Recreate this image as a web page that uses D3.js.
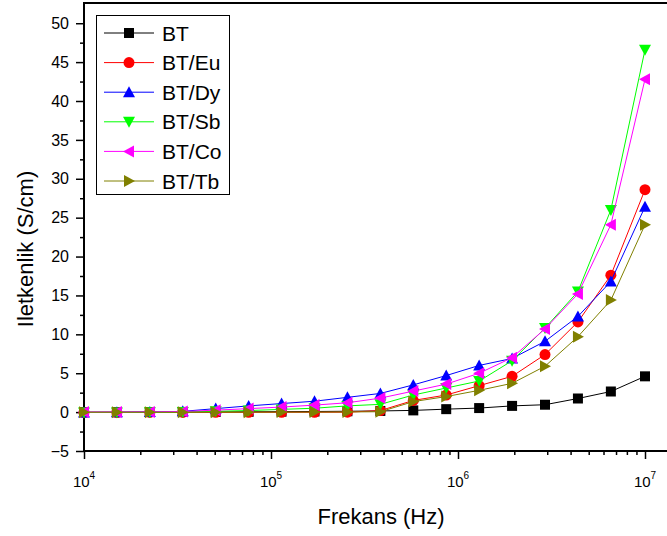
<!DOCTYPE html>
<html>
<head>
<meta charset="utf-8">
<script src="https://cdn.jsdelivr.net/npm/d3@7"></script>
<style>
  body { margin: 0; background: #fff; }
  svg { display: block; font-family: "Liberation Sans", Arial, sans-serif; }
</style>
</head>
<body>
<div id="chart-area"></div>
<script>
// frequencies (Hz), log-spaced sweep
const freq = [10000, 15000, 22500, 33750, 50625, 75940, 113900, 170860, 256290,
  384430, 576650, 864980, 1297460, 1946200, 2919290, 4378940, 6568410, 10000000]

// conductivity values (S/cm)
const BT   = [0.0, 0.0, 0.01, 0.02, 0.03, 0.04, 0.06, 0.08, 0.11, 0.15, 0.22, 0.38, 0.52, 0.8, 0.95, 1.75, 2.65, 4.6]
const BTEu = [-0.05, -0.05, -0.04, -0.04, -0.03, -0.03, -0.02, -0.02, -0.01, 0.2, 1.5, 2.2, 3.4, 4.6, 7.4, 11.6, 17.6, 28.6]
const BTDy = [-0.05, -0.03, 0.0, 0.1, 0.45, 0.8, 1.1, 1.4, 1.9, 2.4, 3.5, 4.7, 6.0, 6.9, 9.1, 12.3, 16.8, 26.4]
const BTSb = [-0.05, -0.04, -0.03, 0.0, 0.1, 0.2, 0.35, 0.5, 0.8, 1.0, 2.2, 3.1, 4.0, 6.6, 10.8, 15.5, 26.0, 46.6]
const BTCo = [0.0, 0.01, 0.03, 0.08, 0.25, 0.45, 0.65, 0.9, 1.2, 1.8, 2.7, 3.6, 5.0, 7.0, 10.7, 15.2, 24.1, 42.8]
const BTTb = [-0.02, -0.02, -0.02, -0.02, -0.01, -0.01, 0.0, 0.0, 0.02, 0.05, 1.35, 2.0, 2.8, 3.7, 5.9, 9.7, 14.4, 24.1]

const seriesNames = ["BT", "BT/Eu", "BT/Dy", "BT/Sb", "BT/Co", "BT/Tb"]
const seriesValues = [BT, BTEu, BTDy, BTSb, BTCo, BTTb]

const yTicks = [-5, 0, 5, 10, 15, 20, 25, 30, 35, 40, 45, 50]
const xTicks = [1e4, 1e5, 1e6, 1e7]
const xTickExp = ["4", "5", "6", "7"]

const colors = ["#000000", "#ff0000", "#0000ff", "#00ff00", "#ff00ff", "#808000"]
const shapes = ["square", "circle", "up", "down", "left", "right"]

const W = 667, H = 536
const PLOT = { LEFT: 84, RIGHT: 645, TOP: 3, BOTTOM: 451 }

const svg = d3.select("#chart-area").append("svg")
  .attr("width", W)
  .attr("height", H)

const x = d3.scaleLog()
  .domain([1e4, 1e7])
  .range([PLOT.LEFT, PLOT.RIGHT])

const y = d3.scaleLinear()
  .domain([-5, 52.6])
  .range([PLOT.BOTTOM, PLOT.TOP])

// minor ticks
const xMinor = []
for (let d = 1e4; d < 1e7; d *= 10) {
  for (let k = 2; k <= 9; k++) xMinor.push(d * k)
}
const yMinor = d3.range(-2.5, 52.5, 5)

svg.append("g")
  .attr("transform", `translate(0, ${PLOT.BOTTOM})`)
  .call(d3.axisBottom(x).tickValues(xMinor).tickSize(4).tickFormat(() => ""))
  .call(g => g.select(".domain").remove())
  .selectAll("line").attr("stroke-width", 1.5)

svg.append("g")
  .attr("transform", `translate(0, ${PLOT.BOTTOM})`)
  .call(d3.axisBottom(x).tickValues(xTicks).tickSize(8).tickFormat(() => ""))
  .call(g => g.select(".domain").remove())
  .selectAll("line").attr("stroke-width", 1.5)

svg.append("g")
  .attr("transform", `translate(${PLOT.LEFT}, 0)`)
  .call(d3.axisLeft(y).tickValues(yMinor).tickSize(4).tickFormat(() => ""))
  .call(g => g.select(".domain").remove())
  .selectAll("line").attr("stroke-width", 1.5)

const yAxis = svg.append("g")
  .attr("transform", `translate(${PLOT.LEFT}, 0)`)
  .call(d3.axisLeft(y).tickValues(yTicks).tickSize(8).tickPadding(7))
  .call(g => g.select(".domain").remove())
yAxis.selectAll("line").attr("stroke-width", 1.5)
yAxis.selectAll("text")
  .attr("font-size", "16px")
  .attr("font-family", "Liberation Sans, Arial, sans-serif")
  .attr("fill", "#000")

// x tick labels with superscript
xTicks.forEach((t, i) => {
  const lbl = svg.append("text")
    .attr("x", x(t))
    .attr("y", 487)
    .attr("text-anchor", "middle")
    .attr("font-size", "15px")
  lbl.append("tspan").text("10")
  lbl.append("tspan").attr("dy", -8).attr("font-size", "10px").text(xTickExp[i])
})

// frame
svg.append("line")
  .attr("x1", PLOT.LEFT).attr("x2", W + 10)
  .attr("y1", PLOT.BOTTOM).attr("y2", PLOT.BOTTOM)
  .attr("stroke", "#000").attr("stroke-width", 2)
svg.append("line")
  .attr("x1", PLOT.LEFT).attr("x2", W + 10)
  .attr("y1", PLOT.TOP).attr("y2", PLOT.TOP)
  .attr("stroke", "#000").attr("stroke-width", 2)
svg.append("line")
  .attr("x1", PLOT.LEFT).attr("x2", PLOT.LEFT)
  .attr("y1", PLOT.TOP - 1).attr("y2", PLOT.BOTTOM + 1)
  .attr("stroke", "#000").attr("stroke-width", 2)

// axis titles
svg.append("text")
  .attr("x", 381)
  .attr("y", 524)
  .attr("text-anchor", "middle")
  .attr("font-size", "22px")
  .text("Frekans (Hz)")

svg.append("text")
  .attr("transform", "translate(33, 249) rotate(-90)")
  .attr("text-anchor", "middle")
  .attr("font-size", "22px")
  .text("Iletkenlik (S/cm)")

// marker shapes
function markerPath(shape) {
  switch (shape) {
    case "square": return "M-5,-5H5V5H-5Z"
    case "up": return "M0,-6L6,5L-6,5Z"
    case "down": return "M0,6L6,-5L-6,-5Z"
    case "left": return "M-6,0L5,-6L5,6Z"
    case "right": return "M6,0L-5,-6L-5,6Z"
  }
  return null
}

function drawMarker(sel, i) {
  if (shapes[i] === "circle") {
    sel.append("circle").attr("r", 5.5).attr("fill", colors[i])
  } else {
    sel.append("path").attr("d", markerPath(shapes[i])).attr("fill", colors[i])
  }
}

const line = d3.line()
  .x(d => x(d[0]))
  .y(d => y(d[1]))

seriesValues.forEach((vals, i) => {
  const pts = freq.map((f, j) => [f, vals[j]])
  const g = svg.append("g")
  g.append("path")
    .datum(pts)
    .attr("fill", "none")
    .attr("stroke", colors[i])
    .attr("stroke-width", 1)
    .attr("d", line)
  g.selectAll("g.mk")
    .data(pts)
    .enter().append("g")
    .attr("class", "mk")
    .attr("transform", d => `translate(${x(d[0])}, ${y(d[1])})`)
    .each(function () { drawMarker(d3.select(this), i) })
})

// legend
const legend = svg.append("g")
legend.append("rect")
  .attr("x", 96.5).attr("y", 15.5)
  .attr("width", 133).attr("height", 179)
  .attr("fill", "#fff")
  .attr("stroke", "#000")
  .attr("stroke-width", 1)

seriesNames.forEach((name, i) => {
  const ly = 33 + i * 29.6
  legend.append("line")
    .attr("x1", 104).attr("x2", 154)
    .attr("y1", ly).attr("y2", ly)
    .attr("stroke", colors[i]).attr("stroke-width", 1)
  const m = legend.append("g").attr("transform", `translate(129, ${ly})`)
  drawMarker(m, i)
  legend.append("text")
    .attr("x", 162)
    .attr("y", ly + 7.5)
    .attr("font-size", "21px")
    .text(name)
})
</script>
</body>
</html>
